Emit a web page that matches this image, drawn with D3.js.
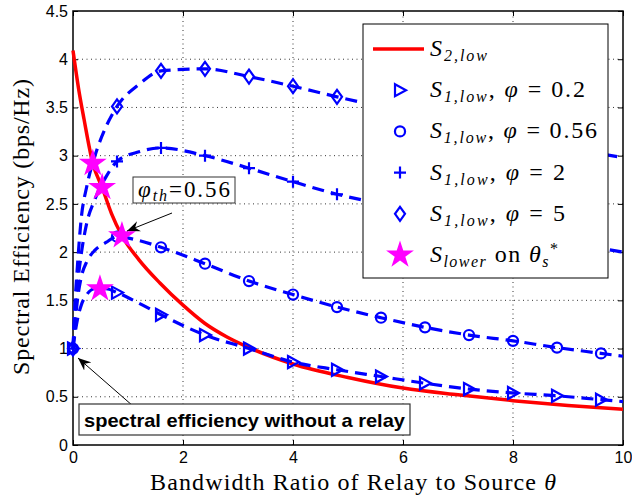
<!DOCTYPE html>
<html>
<head>
<meta charset="utf-8">
<script src="https://cdn.jsdelivr.net/npm/d3@7"></script>
<style>
  body { margin: 0; background: #fff; }
  svg { display: block; }
  .tick text { font-family: "Liberation Sans", Arial, sans-serif; font-size: 16px; fill: #000; }
</style>
</head>
<body>
<div id="chart"></div>
<script>
// theta positions where the markers sit
const markTheta = [0, 0.8, 1.6, 2.4, 3.2, 4.0, 4.8, 5.6, 6.4, 7.2, 8.0, 8.8, 9.6];
// theta positions of the dashed lines (denser near zero)
const lineTheta = [0, 0.03, 0.08, 0.15, 0.25, 0.4, 0.6, 0.8, 1.2, 1.6, 2.4, 3.2, 4.0, 4.8, 5.6, 6.4, 7.2, 8.0, 8.8, 9.6, 10];

// S1,low for each phi, on lineTheta
const phi02 = [1, 1.13, 1.30, 1.45, 1.56, 1.62, 1.62, 1.58, 1.47, 1.35, 1.14, 1.00, 0.86, 0.78, 0.71, 0.64, 0.58, 0.54, 0.51, 0.47, 0.45];
const phi056 = [1, 1.20, 1.50, 1.74, 1.90, 2.02, 2.10, 2.16, 2.12, 2.05, 1.88, 1.70, 1.56, 1.43, 1.32, 1.22, 1.14, 1.08, 1.01, 0.95, 0.92];
const phi2 = [1, 1.30, 1.65, 1.98, 2.30, 2.55, 2.78, 2.94, 3.04, 3.08, 3.00, 2.87, 2.73, 2.60, 2.50, 2.40, 2.31, 2.22, 2.13, 2.04, 2.00];
const phi5 = [1, 1.40, 1.85, 2.35, 2.68, 3.00, 3.30, 3.51, 3.74, 3.88, 3.90, 3.82, 3.72, 3.61, 3.51, 3.42, 3.32, 3.22, 3.12, 3.02, 2.98];

// S2,low (red curve)
const s2Theta = [0, 0.1, 0.2, 0.36, 0.53, 0.7, 0.89, 1.2, 1.58, 2.0, 2.4, 2.8, 3.2, 4.0, 5.0, 6.0, 7.0, 8.0, 9.0, 10];
const s2Low = [4.09, 3.70, 3.38, 2.92, 2.67, 2.40, 2.17, 1.92, 1.68, 1.45, 1.26, 1.12, 1.01, 0.84, 0.70, 0.59, 0.52, 0.46, 0.41, 0.37];

// S_lower on theta_s*
const starTheta = [0.36, 0.53, 0.89, 0.49];
const starVal = [2.92, 2.67, 2.17, 1.62];

const xTicks = [0, 2, 4, 6, 8, 10];
const yTicks = [0, 0.5, 1, 1.5, 2, 2.5, 3, 3.5, 4, 4.5];

const W = 632, H = 498;
const margin = { left: 73, right: 9, top: 11, bottom: 53 };
const blue = '#0000ff';
const serif = '"Liberation Serif", serif';

const svg = d3.select('#chart').append('svg').attr('width', W).attr('height', H);

const x = d3.scaleLinear().domain([0, 10]).range([margin.left, W - margin.right]);
const y = d3.scaleLinear().domain([0, 4.5]).range([H - margin.bottom, margin.top]);

// dotted grid
const grid = svg.append('g').attr('stroke', '#000').attr('stroke-width', 0.8).attr('stroke-dasharray', '1,3.5');
grid.selectAll('.gx').data(xTicks.slice(1, -1)).join('line')
  .attr('x1', (d) => x(d)).attr('x2', (d) => x(d))
  .attr('y1', y(0)).attr('y2', y(4.5));
grid.selectAll('.gy').data(yTicks.slice(1, -1)).join('line')
  .attr('y1', (d) => y(d)).attr('y2', (d) => y(d))
  .attr('x1', x(0)).attr('x2', x(10));

// axes, MATLAB style ticks pointing inwards on all four sides
svg.append('g').attr('transform', `translate(0,${y(0)})`)
  .call(d3.axisBottom(x).tickValues(xTicks).tickSizeInner(-5).tickSizeOuter(0).tickPadding(7).tickFormat((d) => d));
svg.append('g').attr('transform', `translate(${x(0)},0)`)
  .call(d3.axisLeft(y).tickValues(yTicks).tickSizeInner(-5).tickSizeOuter(0).tickPadding(5).tickFormat((d) => d));
svg.append('g').attr('transform', `translate(0,${y(4.5)})`)
  .call(d3.axisTop(x).tickValues(xTicks).tickSizeInner(-5).tickSizeOuter(0).tickFormat(''));
svg.append('g').attr('transform', `translate(${x(10)},0)`)
  .call(d3.axisRight(y).tickValues(yTicks).tickSizeInner(-5).tickSizeOuter(0).tickFormat(''));
svg.selectAll('.domain').remove();
svg.selectAll('.tick line').attr('stroke', '#000');

svg.append('rect')
  .attr('x', x(0)).attr('y', y(4.5))
  .attr('width', x(10) - x(0)).attr('height', y(0) - y(4.5))
  .attr('fill', 'none').attr('stroke', '#000').attr('stroke-width', 1.5);

// clip to plot
svg.append('clipPath').attr('id', 'plotclip').append('rect')
  .attr('x', x(0) - 8).attr('y', y(4.5)).attr('width', x(10) - x(0) + 8).attr('height', y(0) - y(4.5) + 8);
const plot = svg.append('g').attr('clip-path', 'url(#plotclip)');

const line = d3.line().x((d) => x(d[0])).y((d) => y(d[1])).curve(d3.curveMonotoneX);

// red S2,low
plot.append('path')
  .datum(s2Theta.map((t, i) => [t, s2Low[i]]))
  .attr('d', line).attr('fill', 'none').attr('stroke', '#ff0000').attr('stroke-width', 3.5);

// marker shapes
const markerPath = {
  tri: 'M-5,-6L6,0L-5,6Z',
  circ: d3.symbol(d3.symbolCircle, 80)(),
  plus: 'M-6,0H6M0,-6V6',
  diam: 'M0,-7L5,0L0,7L-5,0Z'
};

const series = [
  { vals: phi02, shape: 'tri' },
  { vals: phi056, shape: 'circ' },
  { vals: phi2, shape: 'plus' },
  { vals: phi5, shape: 'diam' }
];

series.forEach((s) => {
  plot.append('path')
    .datum(lineTheta.map((t, i) => [t, s.vals[i]]))
    .attr('d', line).attr('fill', 'none').attr('stroke', blue)
    .attr('stroke-width', 3.2).attr('stroke-dasharray', '12,7');
  // marker values are the line values at the marker thetas
  const pts = markTheta.map((t) => [t, s.vals[lineTheta.indexOf(t)]]);
  plot.selectAll(null).data(pts).join('path')
    .attr('transform', (d) => `translate(${x(d[0])},${y(d[1])})`)
    .attr('d', markerPath[s.shape])
    .attr('fill', 'none').attr('stroke', blue).attr('stroke-width', 2.2);
});

const star = d3.symbol(d3.symbolStar, 240)();
plot.selectAll('.star').data(starTheta.map((t, i) => [t, starVal[i]])).join('path')
  .attr('transform', (d) => `translate(${x(d[0])},${y(d[1])})`)
  .attr('d', star).attr('fill', '#ff00ff');

// arrows
const defs = svg.append('defs');
defs.append('marker').attr('id', 'ahead').attr('viewBox', '0 0 12 10')
  .attr('refX', 12).attr('refY', 5).attr('markerWidth', 13).attr('markerHeight', 11)
  .attr('markerUnits', 'userSpaceOnUse').attr('orient', 'auto')
  .append('path').attr('d', 'M0,0L12,5L0,10L4,5Z').attr('fill', '#000');

svg.append('line').attr('x1', 172).attr('y1', 213).attr('x2', 127).attr('y2', 231)
  .attr('stroke', '#000').attr('stroke-width', 1).attr('marker-end', 'url(#ahead)');
svg.append('line').attr('x1', 133).attr('y1', 406).attr('x2', 78).attr('y2', 358)
  .attr('stroke', '#000').attr('stroke-width', 1).attr('marker-end', 'url(#ahead)');

// phi_th annotation
svg.append('rect').attr('x', 133).attr('y', 177).attr('width', 102).attr('height', 26)
  .attr('fill', '#fff').attr('stroke', '#333').attr('stroke-width', 1);
const ann = svg.append('text').attr('x', 138).attr('y', 197)
  .attr('font-family', serif).attr('font-size', 23)
  .attr('textLength', 92).attr('lengthAdjust', 'spacing');
ann.append('tspan').attr('font-style', 'italic').text('φ');
ann.append('tspan').attr('font-style', 'italic').attr('font-size', 16).attr('dy', 4).text('th');
ann.append('tspan').attr('dy', -4).text('=0.56');

// relay annotation
svg.append('rect').attr('x', 79).attr('y', 404).attr('width', 331).attr('height', 31)
  .attr('fill', '#fff').attr('stroke', '#333').attr('stroke-width', 1.2);
svg.append('text').attr('x', 84).attr('y', 427)
  .attr('font-family', '"Liberation Sans", Arial, sans-serif').attr('font-weight', 'bold')
  .attr('font-size', 18.5).attr('textLength', 321).attr('lengthAdjust', 'spacingAndGlyphs')
  .text('spectral efficiency without a relay');

// legend
const lg = svg.append('g');
lg.append('rect').attr('x', 363).attr('y', 24).attr('width', 245).attr('height', 254)
  .attr('fill', '#fff').attr('stroke', '#000').attr('stroke-width', 1);

const legendRows = [
  { kind: 'red', sub: '2,low', phi: null, w: 57 },
  { kind: 'tri', sub: '1,low', phi: '0.2', w: 155 },
  { kind: 'circ', sub: '1,low', phi: '0.56', w: 167 },
  { kind: 'plus', sub: '1,low', phi: '2', w: 135 },
  { kind: 'diam', sub: '1,low', phi: '5', w: 135 },
  { kind: 'star', sub: 'lower', phi: null, w: 128 }
];
const rowY = d3.scaleLinear().domain([0, 5]).range([49, 255]);

legendRows.forEach((r, i) => {
  const cy = rowY(i);
  if (r.kind === 'red') {
    lg.append('line').attr('x1', 373).attr('x2', 424).attr('y1', cy).attr('y2', cy)
      .attr('stroke', '#ff0000').attr('stroke-width', 3.5);
  } else if (r.kind === 'star') {
    lg.append('path').attr('transform', `translate(400,${cy})`).attr('d', star).attr('fill', '#ff00ff');
  } else {
    lg.append('path').attr('transform', `translate(400,${cy})`).attr('d', markerPath[r.kind])
      .attr('fill', 'none').attr('stroke', blue).attr('stroke-width', 2.2);
  }
  const t = lg.append('text').attr('x', 430).attr('y', cy + 7)
    .attr('font-family', serif).attr('font-size', 24)
    .attr('textLength', r.w).attr('lengthAdjust', 'spacing');
  t.append('tspan').attr('font-style', 'italic').text('S');
  t.append('tspan').attr('font-style', 'italic').attr('font-size', 16).attr('dy', 5).text(r.sub);
  if (r.phi) {
    t.append('tspan').attr('dy', -5).text(', ');
    t.append('tspan').attr('font-style', 'italic').text('φ');
    t.append('tspan').text(' = ' + r.phi);
  } else if (r.kind === 'star') {
    t.append('tspan').attr('dy', -5).text(' on ');
    t.append('tspan').attr('font-style', 'italic').text('θ');
    t.append('tspan').attr('font-style', 'italic').attr('font-size', 16).attr('dy', 5).text('s');
    t.append('tspan').attr('font-size', 16).attr('dy', -13).text('*');
  }
});

// axis labels
svg.append('text').attr('x', 353).attr('y', 490).attr('text-anchor', 'middle')
  .attr('font-family', serif).attr('font-size', 24)
  .attr('textLength', 406).attr('lengthAdjust', 'spacing')
  .text('Bandwidth Ratio of Relay to Source ')
  .append('tspan').attr('font-style', 'italic').text('θ');

svg.append('text').attr('transform', 'translate(29,227) rotate(-90)').attr('text-anchor', 'middle')
  .attr('font-family', serif).attr('font-size', 24)
  .attr('textLength', 296).attr('lengthAdjust', 'spacing')
  .text('Spectral Efficiency (bps/Hz)');
</script>
</body>
</html>
